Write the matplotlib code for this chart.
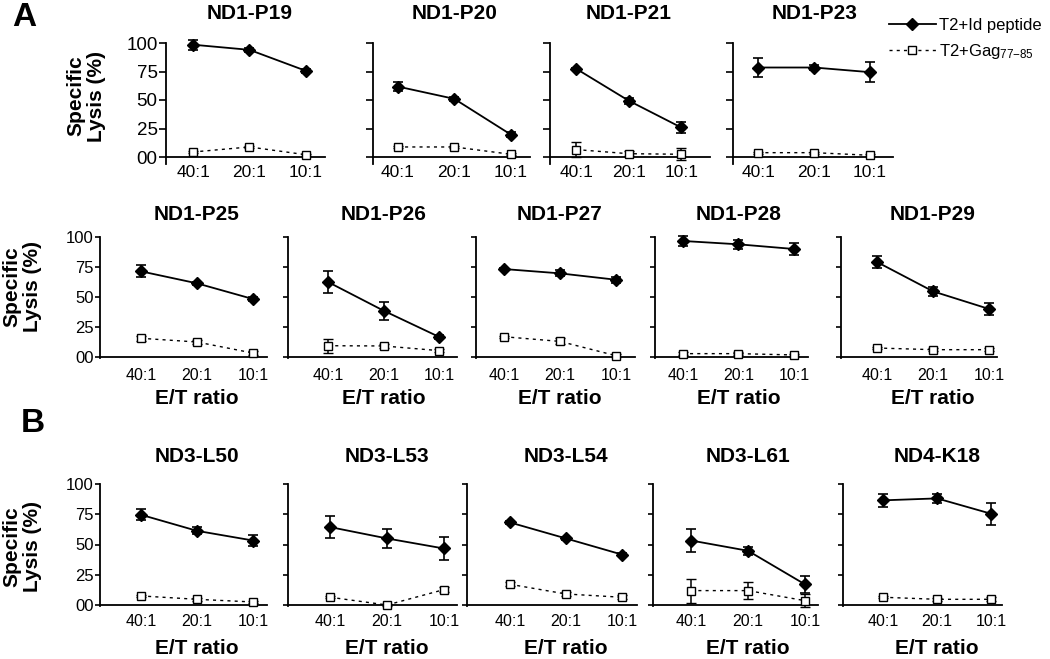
import matplotlib
matplotlib.use("Agg")
import matplotlib.pyplot as plt

plt.rcParams['font.family'] = ['Liberation Sans', 'DejaVu Sans']
plt.rcParams['mathtext.default'] = 'regular'

W, H = 1050, 659

ratios = ["40:1", "20:1", "10:1"]

# ---- data (% specific lysis, mean and error) ----
names_top = ["ND1-P19", "ND1-P20", "ND1-P21", "ND1-P23"]
id_top = [[98.5, 94.0, 75.6], [61.8, 51.0, 19.7], [77.4, 49.4, 25.9], [78.5, 78.5, 74.4]]
id_top_err = [[4.4, 1.5, 1.5], [4.0, 1.5, 2.5], [1.0, 2.5, 4.8], [8.4, 2.0, 8.7]]
gag_top = [[4.4, 8.8, 2.0], [8.8, 8.8, 2.4], [6.5, 2.9, 2.4], [3.8, 3.8, 1.5]]
gag_top_err = [[1.2, 1.2, 0.8], [1.0, 1.0, 1.0], [6.6, 2.0, 5.4], [1.0, 1.0, 1.0]]

names_mid = ["ND1-P25", "ND1-P26", "ND1-P27", "ND1-P28", "ND1-P29"]
id_mid = [[71.4, 61.4, 48.3], [62.5, 38.6, 16.7], [73.3, 69.7, 64.4], [96.7, 93.9, 90.0], [79.2, 54.7, 40.0]]
id_mid_err = [[5.0, 1.5, 2.0], [9.0, 7.6, 2.0], [1.0, 2.5, 2.5], [4.0, 3.5, 5.0], [5.0, 3.5, 4.6]]
gag_mid = [[15.6, 12.5, 3.3], [9.4, 9.2, 5.3], [16.9, 13.0, 1.1], [2.8, 2.8, 1.7], [7.5, 6.1, 6.1]]
gag_mid_err = [[2.0, 2.0, 1.5], [6.0, 2.0, 1.5], [1.0, 2.5, 1.0], [1.0, 1.0, 1.0], [1.0, 1.0, 1.5]]

names_bot = ["ND3-L50", "ND3-L53", "ND3-L54", "ND3-L61", "ND4-K18"]
id_bot = [[74.6, 61.3, 53.3], [64.4, 55.0, 46.7], [68.2, 55.0, 41.7], [53.3, 44.8, 17.1], [86.5, 88.1, 75.4]]
id_bot_err = [[4.4, 3.0, 4.4], [8.8, 7.5, 9.5], [1.5, 1.5, 1.5], [9.7, 3.5, 7.0], [5.4, 4.0, 9.0]]
gag_bot = [[7.5, 4.7, 2.5], [6.4, 0.0, 12.7], [17.1, 9.1, 6.4], [11.9, 11.9, 3.6], [6.4, 4.7, 4.7]]
gag_bot_err = [[1.0, 1.0, 1.0], [1.0, 1.0, 2.0], [1.5, 2.0, 1.5], [10.0, 7.0, 5.5], [1.0, 1.0, 1.5]]

yticks = [0, 25, 50, 75, 100]
ytick_labels = ["00", "25", "50", "75", "100"]

# ---- layout (pixels) ----
# per panel: (left spine px, right end px, xlim)
lay_top = [(166, 325, (-0.48, 2.34)), (373, 530, (-0.44, 2.34)),
           (550, 710, (-0.50, 2.55)), (733, 893, (-0.45, 2.41))]
lay_mid = [(100, 267, (-0.73, 2.25)), (288, 457, (-0.72, 2.32)),
           (476, 635, (-0.50, 2.34)), (655, 808, (-0.50, 2.25)),
           (841, 997, (-0.64, 2.14))]
lay_bot = [(100, 267, (-0.73, 2.25)), (288, 457, (-0.74, 2.23)),
           (467, 637, (-0.77, 2.27)), (653, 818, (-0.67, 2.23)),
           (843, 1002, (-0.74, 2.20))]

rows = [
    dict(names=names_top, idm=id_top, ide=id_top_err, gm=gag_top, ge=gag_top_err, lay=lay_top,
         ytop=43, yzero=157, ymin=-6, title_y=13.5, xtick_fs=12.5, ytick_fs=13.5, xpad=6.0, ylen=5.0,
         xlabel_y=None, ylab=(86, 96)),
    dict(names=names_mid, idm=id_mid, ide=id_mid_err, gm=gag_mid, ge=gag_mid_err, lay=lay_mid,
         ytop=237, yzero=357, ymin=-1, title_y=215, xtick_fs=11.5, ytick_fs=12, xpad=8.0, ylen=3.5,
         xlabel_y=398, ylab=(22, 287)),
    dict(names=names_bot, idm=id_bot, ide=id_bot_err, gm=gag_bot, ge=gag_bot_err, lay=lay_bot,
         ytop=484, yzero=605, ymin=-1, title_y=456, xtick_fs=11.5, ytick_fs=12, xpad=6.5, ylen=3.5,
         xlabel_y=648, ylab=(22, 547)),
]

fig = plt.figure(figsize=(W / 100, H / 100), dpi=100)

bold_fs = 15
legend_handles = None
for r in rows:
    scale = (r['yzero'] - r['ytop']) / 100.0
    ybot = r['yzero'] - r['ymin'] * scale
    for i, name in enumerate(r['names']):
        x0, x1, xl = r['lay'][i]
        ax = fig.add_axes([x0 / W, 1 - ybot / H, (x1 - x0) / W, (ybot - r['ytop']) / H])
        xs = range(len(ratios))
        c1 = ax.errorbar(xs, r['idm'][i], yerr=r['ide'][i], color='black', lw=1.3,
                         marker='D', ms=6.0, mfc='black', mec='black',
                         ecolor='black', elinewidth=1.2, capsize=3.8, capthick=1.2,
                         clip_on=False, zorder=3)
        c2 = ax.errorbar(xs, r['gm'][i], yerr=r['ge'][i], color='black', lw=1.0,
                         ls=(0, (2.2, 3.0)), marker='s', ms=5.8, mfc='white', mec='black',
                         mew=1.0, ecolor='black', elinewidth=1.1, capsize=3.8, capthick=1.1,
                         clip_on=False, zorder=4)
        for art in list(c1.lines[2]) + list(c2.lines[2]) + list(c1.lines[1]) + list(c2.lines[1]):
            art.set_clip_on(False)
        if legend_handles is None:
            legend_handles = [c1.lines[0], c2.lines[0]]
        ax.set_xlim(*xl)
        ax.set_ylim(r['ymin'], 100)
        ax.spines['top'].set_visible(False)
        ax.spines['right'].set_visible(False)
        ax.spines['bottom'].set_position(('data', 0))
        ax.spines['left'].set_linewidth(1.3)
        ax.spines['bottom'].set_linewidth(1.3)
        ax.set_xticks(list(xs))
        ax.set_xticklabels(ratios, fontsize=r['xtick_fs'])
        ax.tick_params(axis='x', length=0, pad=r['xpad'])
        ax.set_yticks(yticks)
        if i == 0:
            ax.set_yticklabels(ytick_labels, fontsize=r['ytick_fs'])
        else:
            ax.set_yticklabels([])
        ax.tick_params(axis='y', length=r['ylen'], width=1.2, pad=1.0, direction='out')
        ax.patch.set_visible(False)
        ax.annotate(name, xy=(1, H - r['title_y']), xycoords=('data', 'figure pixels'),
                    ha='center', va='center', fontsize=bold_fs, fontweight='bold')
        if r['xlabel_y'] is not None:
            ax.annotate('E/T ratio', xy=(1, H - r['xlabel_y']), xycoords=('data', 'figure pixels'),
                        ha='center', va='center', fontsize=bold_fs, fontweight='bold')
    fig.text(r['ylab'][0] / W, 1 - r['ylab'][1] / H, "Specific\nLysis (%)", rotation=90,
             ha='center', va='center', multialignment='center', fontsize=bold_fs,
             fontweight='bold', linespacing=1.1)

fig.text(24 / W, 1 - 17 / H, "A", fontsize=24, fontweight='bold', ha='center', va='center')
fig.text(33 / W, 1 - 423 / H, "B", fontsize=24, fontweight='bold', ha='center', va='center')

fig.legend(legend_handles, ["T2+Id peptide", "T2+Gag$_{77{-}85}$"],
           loc='upper left', bbox_to_anchor=(889 / W, 1 - 18 / H), frameon=False,
           fontsize=12, handlelength=2.8, handletextpad=0.2, labelspacing=0.55,
           borderpad=0, borderaxespad=0)

fig.savefig("out.png", dpi=100)
